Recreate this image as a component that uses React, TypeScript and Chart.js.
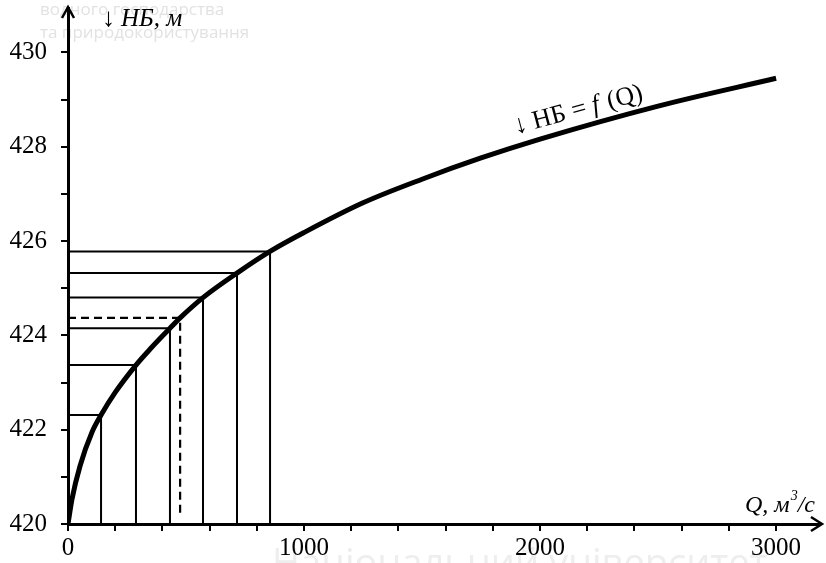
import React, { useEffect, useRef } from "react";
import { Chart, registerables } from "chart.js";

Chart.register(...registerables);

// Rating curve НБ = f(Q)
const CURVE_Q = [0, 17, 51, 102, 140, 200, 288, 350, 432, 475, 572, 716, 856, 1000, 1250, 1500, 1750, 2000, 2500, 3000];
const CURVE_H = [420, 420.53, 421.23, 421.95, 422.31, 422.79, 423.37, 423.72, 424.15, 424.37, 424.8, 425.32, 425.78, 426.18, 426.81, 427.31, 427.76, 428.16, 428.86, 429.45];

// Drop lines (solid)
const DROP_Q = [140, 288, 432, 572, 716, 856];
const DROP_H = [422.31, 423.37, 424.15, 424.8, 425.32, 425.78];

// Dashed drop line
const DASH_Q = [475];
const DASH_H = [424.37];

const X_TICKS = [0, 200, 400, 600, 800, 1000, 1200, 1400, 1600, 1800, 2000, 2200, 2400, 2600, 2800, 3000];
const X_LABELS = [0, 1000, 2000, 3000];
const Y_TICKS = [420, 421, 422, 423, 424, 425, 426, 427, 428, 429, 430];
const Y_LABELS = [420, 422, 424, 426, 428, 430];

const SERIF = "'Liberation Serif', 'Times New Roman', serif";

const overlay = {
  id: "overlay",
  beforeDraw(chart: any) {
    const ctx = chart.ctx;
    ctx.save();
    ctx.fillStyle = "#e2e2e2";
    ctx.font = "17px 'Open Sans', 'DejaVu Sans', sans-serif";
    ctx.textBaseline = "alphabetic";
    ctx.fillText("водного господарства", 40, 15);
    ctx.fillText("та природокористування", 40, 38);
    ctx.fillStyle = "#eeeeee";
    ctx.font = "38px 'Open Sans', 'DejaVu Sans', sans-serif";
    ctx.fillText("Національний університет", 272, 576);
    ctx.restore();
  },
  afterDraw(chart: any) {
    const ctx = chart.ctx;
    const { left, right, top, bottom } = chart.chartArea;
    ctx.save();
    ctx.strokeStyle = "#000";
    ctx.lineWidth = 2.5;
    ctx.lineJoin = "miter";
    // y arrow
    ctx.beginPath();
    ctx.moveTo(left - 6, top + 10);
    ctx.lineTo(left, top - 1);
    ctx.lineTo(left + 6, top + 10);
    ctx.stroke();
    // x arrow
    ctx.beginPath();
    ctx.moveTo(right - 9, bottom - 7);
    ctx.lineTo(right + 2, bottom);
    ctx.lineTo(right - 9, bottom + 7);
    ctx.stroke();

    ctx.fillStyle = "#000";
    ctx.textBaseline = "alphabetic";
    // y title
    ctx.font = `26px ${SERIF}`;
    ctx.fillText("↓", 102, 26);
    ctx.font = `italic 25px ${SERIF}`;
    ctx.fillText("НБ, м", 121, 26);
    // x title
    ctx.font = `italic 24px ${SERIF}`;
    ctx.fillText("Q, м", 745, 512);
    const w1 = ctx.measureText("Q, м").width;
    ctx.font = `italic 14px ${SERIF}`;
    ctx.fillText("3", 745 + w1 + 1, 500);
    ctx.font = `italic 24px ${SERIF}`;
    ctx.fillText("/с", 745 + w1 + 8, 512);
    // curve label
    ctx.translate(516, 134);
    ctx.rotate((-15 * Math.PI) / 180);
    ctx.font = `26px ${SERIF}`;
    ctx.fillText("↓ НБ = ", 0, 0);
    const w2 = ctx.measureText("↓ НБ = ").width;
    ctx.font = `italic 26px ${SERIF}`;
    ctx.fillText("f", w2, 0);
    const w3 = ctx.measureText("f ").width;
    ctx.font = `26px ${SERIF}`;
    ctx.fillText("(Q)", w2 + w3 + 2, 0);
    ctx.restore();
  },
};

export default function App() {
  const ref = useRef<HTMLCanvasElement | null>(null);
  useEffect(() => {
    if (!ref.current) return;
    const datasets: any[] = [];
    datasets.push({
      data: CURVE_Q.map((q, i) => ({ x: q, y: CURVE_H[i] })),
      borderColor: "#000",
      borderWidth: 5,
      pointRadius: 0,
      cubicInterpolationMode: "monotone",
      fill: false,
      order: 0,
    });
    DROP_Q.forEach((q, i) => {
      datasets.push({
        data: [
          { x: 0, y: DROP_H[i] },
          { x: q, y: DROP_H[i] },
          { x: q, y: 420 },
        ],
        borderColor: "#000",
        borderWidth: 2,
        pointRadius: 0,
        tension: 0,
        fill: false,
        order: 1,
      });
    });
    DASH_Q.forEach((q, i) => {
      datasets.push({
        data: [
          { x: 0, y: DASH_H[i] },
          { x: q, y: DASH_H[i] },
          { x: q, y: 420.15 },
        ],
        borderColor: "#000",
        borderWidth: 2.2,
        borderDash: [8, 5],
        pointRadius: 0,
        tension: 0,
        fill: false,
        order: 1,
      });
    });

    const chart = new Chart(ref.current, {
      type: "scatter",
      data: { datasets: datasets.map((d) => ({ ...d, showLine: true })) },
      options: {
        animation: false,
        responsive: false,
        devicePixelRatio: 1,
        layout: { padding: { left: 0, right: 6, top: 8, bottom: 0 } },
        plugins: { legend: { display: false }, tooltip: { enabled: false } },
        scales: {
          x: {
            type: "linear",
            min: 0,
            max: 3186,
            afterBuildTicks: (s: any) => {
              s.ticks = X_TICKS.map((v) => ({ value: v }));
            },
            ticks: {
              autoSkip: false,
              maxRotation: 0,
              minRotation: 0,
              color: "#000",
              padding: 2,
              font: { family: SERIF, size: 25 },
              callback: (v: any) => (X_LABELS.includes(Math.round(Number(v))) ? String(Math.round(Number(v))) : ""),
            },
            grid: { drawOnChartArea: false, drawTicks: true, tickLength: 7, color: "#000", lineWidth: 2 },
            border: { display: true, color: "#000", width: 3 },
            afterFit: (s: any) => {
              s.height = 563 - 524;
              s.paddingLeft = 0;
              s.paddingRight = 0;
            },
          },
          y: {
            type: "linear",
            min: 420,
            max: 430.94,
            afterBuildTicks: (s: any) => {
              s.ticks = Y_TICKS.map((v) => ({ value: v }));
            },
            ticks: {
              autoSkip: false,
              color: "#000",
              padding: 14,
              font: { family: SERIF, size: 25 },
              callback: (v: any) => (Y_LABELS.includes(Math.round(Number(v))) ? String(Math.round(Number(v))) : ""),
            },
            grid: { drawOnChartArea: false, drawTicks: true, tickLength: 7, color: "#000", lineWidth: 2 },
            border: { display: true, color: "#000", width: 3 },
            afterFit: (s: any) => {
              s.width = 68;
              s.paddingTop = 0;
              s.paddingBottom = 0;
            },
          },
        },
      },
      plugins: [overlay],
    });
    return () => chart.destroy();
  }, []);
  return (
    <div style={{ position: "absolute", left: 0, top: 0, width: 826, height: 563, background: "#fff" }}>
      <canvas ref={ref} width={826} height={563} />
    </div>
  );
}
